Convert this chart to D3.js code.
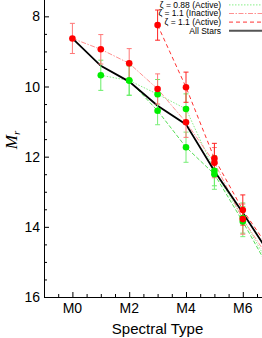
<!DOCTYPE html>
<html>
    <head>
        <meta charset="utf-8">
        <script type="text/javascript" src="https://d3js.org/d3.v7.min.js"></script>
        <style>
            html, body {
                margin: 0;
                padding: 0;
                background: #fff;
                font-family: "Liberation Sans", Arial, sans-serif;
            }
            svg .tick-label {
                font-size: 14px;
                fill: #000;
            }
            svg .legend text {
                font-size: 8.5px;
                fill: #000;
            }
        </style>
    </head>
    <body>
        <div id="chart"></div>
        <script>
            // spectral subtypes (M0 = 0)
            var types = [0, 1, 2, 3, 4, 5, 6, 7];
            var allStars = [8.63, 9.41, 9.86, 10.55, 11.08, 12.41, 13.60, 14.85];
            var z088Active = [null, 9.68, 9.83, 10.22, 10.64, 12.40, 13.75, 15.2];
            var z088ActiveErr = [null, 0.43, 0.42, 0.42, 0.43, 0.43, 0.43, 0.43];
            var z088Inactive = [null, null, 9.83, 10.69, 11.73, 12.50, 13.85, 15.3];
            var z088InactiveErr = [null, null, 0.42, 0.40, 0.43, 0.43, 0.43, 0.43];
            var z11Inactive = [8.63, 8.94, 9.34, 10.07, 11.02, 12.17, 13.78, 15.0];
            var z11InactiveErr = [0.43, 0.42, 0.42, 0.43, 0.43, 0.43, 0.43, 0.43];
            var z11Active = [null, null, null, 8.25, 10.02, 12.05, 13.52, 14.7];
            var z11ActiveErr = [null, null, null, 0.43, 0.43, 0.43, 0.43, 0.43];

            var xMajor = [0, 2, 4, 6];
            var xLabels = ["M0", "M2", "M4", "M6"];
            var yMajor = [8, 10, 12, 14, 16];

            var width = 262, height = 338;
            var plot = {left: 44, bottom: 297, top: -1.2};

            var xScale = d3.scaleLinear().domain([-1, 7]).range([plot.left, plot.left + 8 * 28.4]);
            var yScale = d3.scaleLinear().domain([7.5, 16]).range([plot.top, plot.bottom]);

            var svg = d3.select("#chart")
                .append("svg")
                    .attr("width", width)
                    .attr("height", height);

            svg.append("defs").append("clipPath")
                .attr("id", "clip")
                .append("rect")
                    .attr("x", plot.left)
                    .attr("y", 0)
                    .attr("width", width - plot.left)
                    .attr("height", plot.bottom);

            // axes
            var xAxis = d3.axisBottom(xScale)
                .tickValues(d3.range(-0.5, 7.01, 0.5))
                .tickSize(0)
                .tickFormat("");
            svg.append("g")
                .attr("class", "x axis")
                .attr("transform", "translate(0," + plot.bottom + ")")
                .call(xAxis)
                .call(function(g) {
                    g.select(".domain").attr("stroke", "#000").attr("stroke-width", 1);
                    g.selectAll(".tick line")
                        .attr("stroke", "#000")
                        .attr("y2", function(d) { return xMajor.indexOf(d) >= 0 ? -5 : -3; });
                });

            svg.selectAll(".x-label")
                .data(xMajor)
                .enter()
                .append("text")
                .attr("class", "tick-label")
                .attr("text-anchor", "middle")
                .attr("x", function(d) { return xScale(d); })
                .attr("y", 313)
                .text(function(d, i) { return xLabels[i]; });

            var yAxis = d3.axisLeft(yScale)
                .tickValues(d3.range(8, 16.01, 0.5))
                .tickSize(0)
                .tickFormat("");
            svg.append("g")
                .attr("class", "y axis")
                .attr("transform", "translate(" + plot.left + ",0)")
                .call(yAxis)
                .call(function(g) {
                    g.select(".domain").attr("stroke", "#000").attr("stroke-width", 1);
                    g.selectAll(".tick line")
                        .attr("stroke", "#000")
                        .attr("x2", function(d) { return yMajor.indexOf(d) >= 0 ? 5 : 3; });
                });

            svg.selectAll(".y-label")
                .data(yMajor)
                .enter()
                .append("text")
                .attr("class", "tick-label")
                .attr("text-anchor", "end")
                .attr("x", 40)
                .attr("y", function(d) { return yScale(d); })
                .attr("dy", "0.36em")
                .text(function(d) { return d; });

            svg.append("text")
                .attr("text-anchor", "middle")
                .attr("x", xScale(3))
                .attr("y", 334)
                .style("font-size", "15px")
                .text("Spectral Type");

            var yTitle = svg.append("text")
                .attr("transform", "translate(17,140) rotate(-90)")
                .attr("text-anchor", "middle")
                .style("font-family", "'Liberation Serif', 'Times New Roman', serif")
                .style("font-style", "italic")
                .style("font-size", "17px");
            yTitle.append("tspan").text("M");
            yTitle.append("tspan").attr("dy", 3).style("font-size", "11px").text("r");

            // series
            var series = [
                {name: "\u03b6 = 0.88 (Inactive)", values: z088Inactive, err: z088InactiveErr,
                 line: "#55dd55", dash: "4,2", bar: "#77ee77", marker: "#00ee00", width: 1, legend: false},
                {name: "\u03b6 = 0.88 (Active)", values: z088Active, err: z088ActiveErr,
                 line: "#88ee88", dash: "1.5,1.5", bar: "#66ee66", marker: "#00ee00", width: 1, legend: true},
                {name: "\u03b6 = 1.1 (Inactive)", values: z11Inactive, err: z11InactiveErr,
                 line: "#ff9090", dash: "5,1.5,1.5,1.5", bar: "#ff7777", marker: "#ff0000", width: 1, legend: true},
                {name: "\u03b6 = 1.1 (Active)", values: z11Active, err: z11ActiveErr,
                 line: "#ff3333", dash: "4,3", bar: "#ff2020", marker: "#ff0000", width: 1, legend: true}
            ];

            var g = svg.append("g").attr("clip-path", "url(#clip)");

            var line = d3.line()
                .defined(function(d) { return d.y != null; })
                .x(function(d) { return xScale(d.x); })
                .y(function(d) { return yScale(d.y); });

            function toPoints(vals, errs) {
                return types.map(function(t, i) {
                    return {x: t, y: vals[i], e: errs ? errs[i] : null};
                }).filter(function(d) { return d.y != null; });
            }

            series.forEach(function(s) {
                g.append("path")
                    .datum(toPoints(s.values))
                    .attr("fill", "none")
                    .attr("stroke", s.line)
                    .attr("stroke-width", s.width)
                    .attr("stroke-dasharray", s.dash)
                    .attr("d", line);
            });

            g.append("path")
                .datum(toPoints(allStars))
                .attr("fill", "none")
                .attr("stroke", "#000")
                .attr("stroke-width", 1.8)
                .attr("d", line);

            series.forEach(function(s) {
                var pts = toPoints(s.values, s.err);
                var bars = g.append("g");
                bars.selectAll(".bar")
                    .data(pts)
                    .enter()
                    .append("line")
                    .attr("stroke", s.bar)
                    .attr("stroke-width", 1)
                    .attr("x1", function(d) { return xScale(d.x); })
                    .attr("x2", function(d) { return xScale(d.x); })
                    .attr("y1", function(d) { return yScale(d.y - d.e); })
                    .attr("y2", function(d) { return yScale(d.y + d.e); });
                [-1, 1].forEach(function(sign) {
                    bars.selectAll(".cap" + sign)
                        .data(pts)
                        .enter()
                        .append("line")
                        .attr("stroke", s.bar)
                        .attr("stroke-width", 1)
                        .attr("x1", function(d) { return xScale(d.x) - 2.5; })
                        .attr("x2", function(d) { return xScale(d.x) + 2.5; })
                        .attr("y1", function(d) { return yScale(d.y + sign * d.e); })
                        .attr("y2", function(d) { return yScale(d.y + sign * d.e); });
                });
            });

            series.forEach(function(s) {
                g.append("g").selectAll("circle")
                    .data(toPoints(s.values))
                    .enter()
                    .append("circle")
                    .attr("cx", function(d) { return xScale(d.x); })
                    .attr("cy", function(d) { return yScale(d.y); })
                    .attr("r", 3.3)
                    .attr("fill", s.marker);
            });

            // legend, top right
            var legendItems = series.filter(function(s) { return s.legend; })
                .concat([{name: "All Stars", line: "#555", dash: null, width: 2}]);
            var legend = svg.append("g").attr("class", "legend");
            var rows = legend.selectAll(".row")
                .data(legendItems)
                .enter()
                .append("g")
                .attr("transform", function(d, i) { return "translate(0," + (4.9 + i * 8.6) + ")"; });
            rows.append("text")
                .attr("x", 221)
                .attr("y", 0)
                .attr("dy", "0.35em")
                .attr("text-anchor", "end")
                .text(function(d) { return d.name; });
            rows.append("line")
                .attr("x1", 229)
                .attr("x2", 266)
                .attr("y1", 0)
                .attr("y2", 0)
                .attr("stroke", function(d) { return d.line; })
                .attr("stroke-width", function(d) { return d.width; })
                .attr("stroke-dasharray", function(d) { return d.dash; });
        </script>
    </body>
</html>
